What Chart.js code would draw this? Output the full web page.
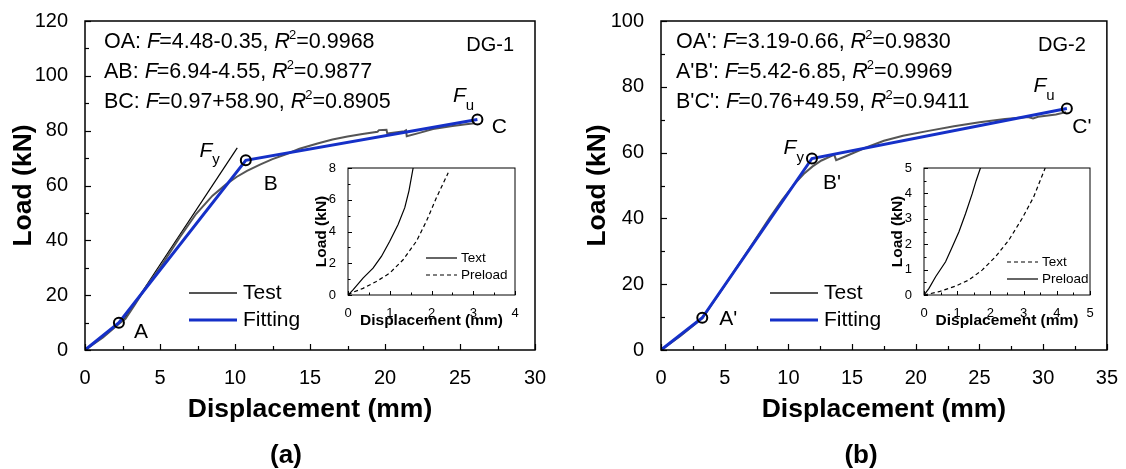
<!DOCTYPE html>
<html>
<head>
<meta charset="utf-8">
<script src="https://cdn.jsdelivr.net/npm/chart.js@4.4.1/dist/chart.umd.min.js"></script>
<style>
  html, body { margin: 0; padding: 0; background: #fff; }
  #wrap { position: relative; width: 1126px; height: 469px; }
  #wrap canvas { position: absolute; left: 0; top: 0; }
</style>
</head>
<body>
<div id="wrap">
  <canvas id="main1" width="1126" height="469"></canvas>
  <canvas id="main2" width="1126" height="469"></canvas>
  <canvas id="inset1" width="1126" height="469"></canvas>
  <canvas id="inset2" width="1126" height="469"></canvas>
</div>
<script>
// ---- DG-1 (a) ----
const dg1TestDisp = [0, 1.2, 2.27, 2.7, 3.3, 4.1, 5.0, 6.3, 7.4, 8.5, 9.4, 10.1, 10.8, 11.7, 12.5, 13.4, 14.3, 15.5, 16.5, 17.5, 18.5, 19.5, 19.6, 20.1, 20.15, 21.3, 21.4, 21.45, 22.3, 23.2, 24.5, 25.4, 26.0];
const dg1TestLoad = [0, 4.6, 9.6, 11.4, 16.3, 23.2, 30.0, 41.0, 49.6, 56.3, 60.4, 63.1, 65.3, 67.7, 69.6, 71.4, 73.4, 75.3, 76.8, 77.9, 78.8, 79.6, 80.2, 80.3, 79.0, 79.8, 80.1, 78.0, 79.2, 80.6, 81.7, 82.3, 82.7];
const dg1FitDisp = [0, 2.26, 10.72, 26.16];
const dg1FitLoad = [0, 9.97, 69.2, 84.1];
const dg1TangentDisp = [2.5, 10.15];
const dg1TangentLoad = [10.4, 73.7];
const dg1Points = ['A', 'B', 'C'];
const dg1Segs = ['OA', 'AB', 'BC'];
const dg1Fits = ['4.48-0.35', '6.94-4.55', '0.97+58.90'];
const dg1R2 = ['0.9968', '0.9877', '0.8905'];

// ---- DG-2 (b) ----
const dg2TestDisp = [0, 1.5, 3.24, 5.0, 7.0, 8.5, 9.5, 10.5, 11.2, 11.9, 12.6, 13.4, 13.6, 13.75, 14.5, 16.0, 17.5, 19.0, 21.0, 23.0, 25.0, 27.0, 28.8, 29.2, 29.6, 31.0, 31.8];
const dg2TestLoad = [0, 4.2, 9.6, 19.6, 31.2, 40.0, 45.6, 50.6, 53.5, 55.8, 57.6, 59.0, 59.3, 57.7, 58.9, 61.4, 63.6, 65.1, 66.6, 68.0, 69.2, 70.2, 70.8, 70.4, 70.9, 71.6, 72.3];
const dg2FitDisp = [0, 3.24, 11.85, 31.86];
const dg2FitLoad = [0, 9.8, 58.2, 73.4];
const dg2Points = ["A'", "B'", "C'"];
const dg2Segs = ["OA'", "A'B'", "B'C'"];
const dg2Fits = ['3.19-0.66', '5.42-6.85', '0.76+49.59'];
const dg2R2 = ['0.9830', '0.9969', '0.9411'];

// ---- insets ----
const in1TextDisp = [0, 0.12, 0.36, 0.6, 0.8, 1.0, 1.2, 1.36, 1.46, 1.56, 1.6];
const in1TextLoad = [0, 0.32, 1.06, 1.69, 2.43, 3.39, 4.44, 5.5, 6.56, 8.0, 8.6];
const in1PreDisp = [0, 0.1, 0.36, 0.68, 1.0, 1.32, 1.64, 1.88, 2.12, 2.4];
const in1PreLoad = [0, 0.15, 0.42, 0.85, 1.38, 2.22, 3.39, 4.66, 6.14, 7.7];
const in2PreDisp = [0, 0.15, 0.35, 0.65, 0.85, 1.05, 1.25, 1.45, 1.57, 1.7, 1.75];
const in2PreLoad = [0, 0.26, 0.72, 1.31, 1.89, 2.48, 3.2, 3.98, 4.5, 5.0, 5.2];
const in2TextDisp = [0, 0.45, 0.95, 1.35, 1.75, 2.15, 2.55, 2.95, 3.3, 3.65];
const in2TextLoad = [0, 0.13, 0.35, 0.59, 0.98, 1.5, 2.15, 3.0, 3.85, 5.0];

const FONT = '"Liberation Sans", Arial, sans-serif';
const GRAY = '#555555';
const BLUE = '#1530c8';
Chart.defaults.font.family = FONT;
Chart.defaults.color = '#000';

const pts = (xs, ys) => xs.map((x, i) => ({ x, y: ys[i] }));

// box + inward major/minor ticks
const framePlugin = {
  id: 'frame',
  afterDatasetsDraw(chart, args, o) {
    const { ctx, chartArea: a, scales: { x, y } } = chart;
    ctx.save();
    ctx.strokeStyle = '#000';
    ctx.lineWidth = o.tickW;
    const isMajor = (v, s) => Math.abs(v / s - Math.round(v / s)) < 1e-6;
    for (let v = x.min; v <= x.max + 1e-9; v += o.xMinor) {
      const px = Math.round(x.getPixelForValue(v)) + 0.5;
      ctx.beginPath();
      ctx.moveTo(px, a.bottom);
      ctx.lineTo(px, a.bottom - (isMajor(v, o.xMajor) ? o.major : o.minor));
      ctx.stroke();
    }
    for (let v = y.min; v <= y.max + 1e-9; v += o.yMinor) {
      const py = Math.round(y.getPixelForValue(v)) + 0.5;
      ctx.beginPath();
      ctx.moveTo(a.left, py);
      ctx.lineTo(a.left + (isMajor(v, o.yMajor) ? o.major : o.minor), py);
      ctx.stroke();
    }
    ctx.lineWidth = o.lw;
    ctx.strokeRect(a.left, a.top, a.right - a.left, a.bottom - a.top);
    ctx.restore();
  }
};

function rich(ctx, x, y, parts, size) {
  let cx = x;
  parts.forEach(([t, s]) => {
    let f = size, dy = 0, st = '';
    if (s === 'i') st = 'italic ';
    if (s === 'sup') { f = Math.round(size * 0.6); dy = -size * 0.4; }
    ctx.font = `${st}${f}px ${FONT}`;
    ctx.fillText(t, cx, y + dy);
    cx += ctx.measureText(t).width - (s === 'i' ? 1 : 0);
  });
}

function subLabel(ctx, cx, cy, main, sub) {
  ctx.font = `italic 21px ${FONT}`;
  ctx.textAlign = 'center';
  ctx.textBaseline = 'middle';
  const w = ctx.measureText(main).width;
  ctx.fillText(main, cx, cy);
  ctx.font = `15px ${FONT}`;
  ctx.textAlign = 'left';
  ctx.fillText(sub, cx + w / 2, cy + 9);
}

function panelNotes(p) {
  return chart => {
    const { ctx, chartArea: a, scales: { x, y } } = chart;
    ctx.save();
    ctx.fillStyle = '#000';
    ctx.textAlign = 'left';
    ctx.textBaseline = 'alphabetic';
    p.segs.forEach((s, i) => {
      rich(ctx, p.eqX, 48 + i * 30, [[s + ': ', 'n'], ['F', 'i'], ['=' + p.fits[i] + ', ', 'n'], ['R', 'i'], ['2', 'sup'], ['=' + p.r2[i], 'n']], 21.5);
    });
    ctx.font = `20px ${FONT}`;
    ctx.textAlign = 'right';
    ctx.fillText(p.name, a.right - 21, 51);

    // key point labels
    const kp = p.keys.map(([dx, dy]) => [x.getPixelForValue(dx), y.getPixelForValue(dy)]);
    ctx.font = `21px ${FONT}`;
    ctx.textAlign = 'center';
    ctx.textBaseline = 'middle';
    p.names.forEach((n, i) => ctx.fillText(n, kp[i][0] + p.offs[i][0], kp[i][1] + p.offs[i][1]));
    subLabel(ctx, kp[1][0] + p.fy[0], kp[1][1] + p.fy[1], 'F', 'y');
    subLabel(ctx, kp[2][0] + p.fu[0], kp[2][1] + p.fu[1], 'F', 'u');

    // legend
    ctx.lineCap = 'butt';
    [[GRAY, 2, 'Test', 293], [BLUE, 3, 'Fitting', 320]].forEach(([c, w, t, ly]) => {
      ctx.strokeStyle = c; ctx.lineWidth = w;
      ctx.beginPath(); ctx.moveTo(p.legX, ly); ctx.lineTo(p.legX + 48, ly); ctx.stroke();
      ctx.font = `21px ${FONT}`; ctx.textAlign = 'left'; ctx.textBaseline = 'middle';
      ctx.fillText(t, p.legX + 54, ly);
    });

    // titles and caption
    ctx.textAlign = 'center';
    ctx.textBaseline = 'middle';
    ctx.font = `bold 26.5px ${FONT}`;
    ctx.fillText('Displacement (mm)', (a.left + a.right) / 2, 410);
    ctx.font = `bold 26px ${FONT}`;
    ctx.fillText(p.caption, p.capX, 456);
    ctx.font = `bold 26.5px ${FONT}`;
    ctx.translate(p.yTitleX, (a.top + a.bottom) / 2);
    ctx.rotate(-Math.PI / 2);
    ctx.fillText('Load (kN)', 0, 0);
    ctx.restore();
  };
}

function mainChart(id, o) {
  return new Chart(document.getElementById(id), {
    type: 'scatter',
    data: { datasets: o.datasets },
    options: {
      animation: false, responsive: false, devicePixelRatio: 1,
      layout: { padding: o.padding },
      plugins: { legend: { display: false }, tooltip: { enabled: false },
        frame: { lw: 1.5, tickW: 1.2, major: 6, minor: 4, xMajor: 5, xMinor: 2.5, yMajor: 20, yMinor: 10 } },
      scales: {
        x: { type: 'linear', min: 0, max: o.xMax,
          ticks: { stepSize: 5, autoSkip: false, padding: 8, maxRotation: 0, font: { size: 20 } },
          grid: { display: false }, border: { display: false },
          afterFit: s => { s.height = 119; } },
        y: { type: 'linear', min: 0, max: o.yMax,
          ticks: { stepSize: 20, autoSkip: false, padding: 9, font: { size: 20 } },
          grid: { display: false }, border: { display: false },
          afterFit: s => { s.width = o.yWidth; } }
      }
    },
    plugins: [framePlugin, { id: 'notes', afterDraw: o.notes }]
  });
}

function insetChart(id, o) {
  return new Chart(document.getElementById(id), {
    type: 'scatter',
    data: { datasets: o.datasets },
    options: {
      animation: false, responsive: false, devicePixelRatio: 1,
      layout: { padding: o.padding },
      plugins: { legend: { display: false }, tooltip: { enabled: false },
        frame: { lw: 1, tickW: 1, major: 4, minor: 2.5, xMajor: 1, xMinor: 0.5, yMajor: o.yStep, yMinor: o.yStep / 2 } },
      scales: {
        x: { type: 'linear', min: 0, max: o.xMax,
          ticks: { stepSize: 1, autoSkip: false, padding: 3, maxRotation: 0, font: { size: 13 } },
          grid: { display: false }, border: { display: false },
          afterFit: s => { s.height = 40; } },
        y: { type: 'linear', min: 0, max: o.yMax,
          ticks: { stepSize: o.yStep, autoSkip: false, padding: 4, font: { size: 13 } },
          grid: { display: false }, border: { display: false },
          afterFit: s => { s.width = 40; } }
      }
    },
    plugins: [framePlugin, { id: 'notes', afterDraw: chart => {
      const { ctx, chartArea: a } = chart;
      ctx.save();
      ctx.fillStyle = '#000';
      ctx.font = `bold 15.5px ${FONT}`;
      ctx.textAlign = 'center';
      ctx.textBaseline = 'middle';
      ctx.fillText('Displacement (mm)', (a.left + a.right) / 2, 321);
      ctx.save();
      ctx.translate(a.left - 26, (a.top + a.bottom) / 2);
      ctx.rotate(-Math.PI / 2);
      ctx.fillText('Load (kN)', 0, 0);
      ctx.restore();
      ctx.strokeStyle = '#000';
      ctx.lineWidth = 1.2;
      o.legend.forEach(([t, dash], i) => {
        const ly = o.legY + i * 17;
        ctx.setLineDash(dash);
        ctx.beginPath(); ctx.moveTo(o.legX, ly); ctx.lineTo(o.legX + 31, ly); ctx.stroke();
        ctx.setLineDash([]);
        ctx.font = `13.5px ${FONT}`; ctx.textAlign = 'left';
        ctx.fillText(t, o.legX + 35, ly);
      });
      ctx.restore();
    } }]
  });
}

const lineDs = (xs, ys, color, width, dash) => ({
  data: pts(xs, ys), showLine: true, borderColor: color, borderWidth: width,
  borderDash: dash || [], pointRadius: 0, fill: false, tension: 0
});
const keyDs = (xs, ys) => ({
  data: pts(xs, ys).slice(1), showLine: false, pointRadius: 5, pointBorderWidth: 2,
  pointBorderColor: '#000', pointBackgroundColor: 'rgba(0,0,0,0)'
});

mainChart('main1', {
  xMax: 30, yMax: 120, yWidth: 85,
  padding: { left: 0, top: 20, right: 1126 - 535, bottom: 0 },
  datasets: [
    keyDs(dg1FitDisp, dg1FitLoad),
    lineDs(dg1FitDisp, dg1FitLoad, BLUE, 3),
    lineDs(dg1TestDisp, dg1TestLoad, GRAY, 2),
    lineDs(dg1TangentDisp, dg1TangentLoad, '#000', 1.2)
  ],
  notes: panelNotes({
    segs: dg1Segs, fits: dg1Fits, r2: dg1R2, name: 'DG-1', eqX: 104,
    keys: pts(dg1FitDisp, dg1FitLoad).slice(1).map(p => [p.x, p.y]),
    names: dg1Points, offs: [[22, 10], [25, 24], [22, 8]], fy: [-40, -9], fu: [-18, -23],
    legX: 189, caption: '(a)', capX: 286, yTitleX: 24
  })
});

mainChart('main2', {
  xMax: 35, yMax: 100, yWidth: 98,
  padding: { left: 563, top: 20, right: 1126 - 1110, bottom: 0 },
  datasets: [
    keyDs(dg2FitDisp, dg2FitLoad),
    lineDs(dg2FitDisp, dg2FitLoad, BLUE, 3),
    lineDs(dg2TestDisp, dg2TestLoad, GRAY, 2)
  ],
  notes: panelNotes({
    segs: dg2Segs, fits: dg2Fits, r2: dg2R2, name: 'DG-2', eqX: 676,
    keys: pts(dg2FitDisp, dg2FitLoad).slice(1).map(p => [p.x, p.y]),
    names: dg2Points, offs: [[26, 1], [20, 25], [15, 19]], fy: [-22, -10], fu: [-27, -22],
    legX: 770, caption: '(b)', capX: 861, yTitleX: 598
  })
});

insetChart('inset1', {
  xMax: 4, yMax: 8, yStep: 2,
  padding: { left: 348 - 40, top: 168, right: 1126 - 515, bottom: 469 - 295 - 40 },
  datasets: [
    lineDs(in1TextDisp, in1TextLoad, '#000', 1.2),
    lineDs(in1PreDisp, in1PreLoad, '#000', 1.2, [4, 3])
  ],
  legend: [['Text', []], ['Preload', [4, 3]]], legX: 426, legY: 258
});

insetChart('inset2', {
  xMax: 5, yMax: 5, yStep: 1,
  padding: { left: 924 - 40, top: 168, right: 1126 - 1090, bottom: 469 - 295 - 40 },
  datasets: [
    lineDs(in2PreDisp, in2PreLoad, '#000', 1.2),
    lineDs(in2TextDisp, in2TextLoad, '#000', 1.2, [4, 3])
  ],
  legend: [['Text', [4, 3]], ['Preload', []]], legX: 1007, legY: 262
});
</script>
</body>
</html>
